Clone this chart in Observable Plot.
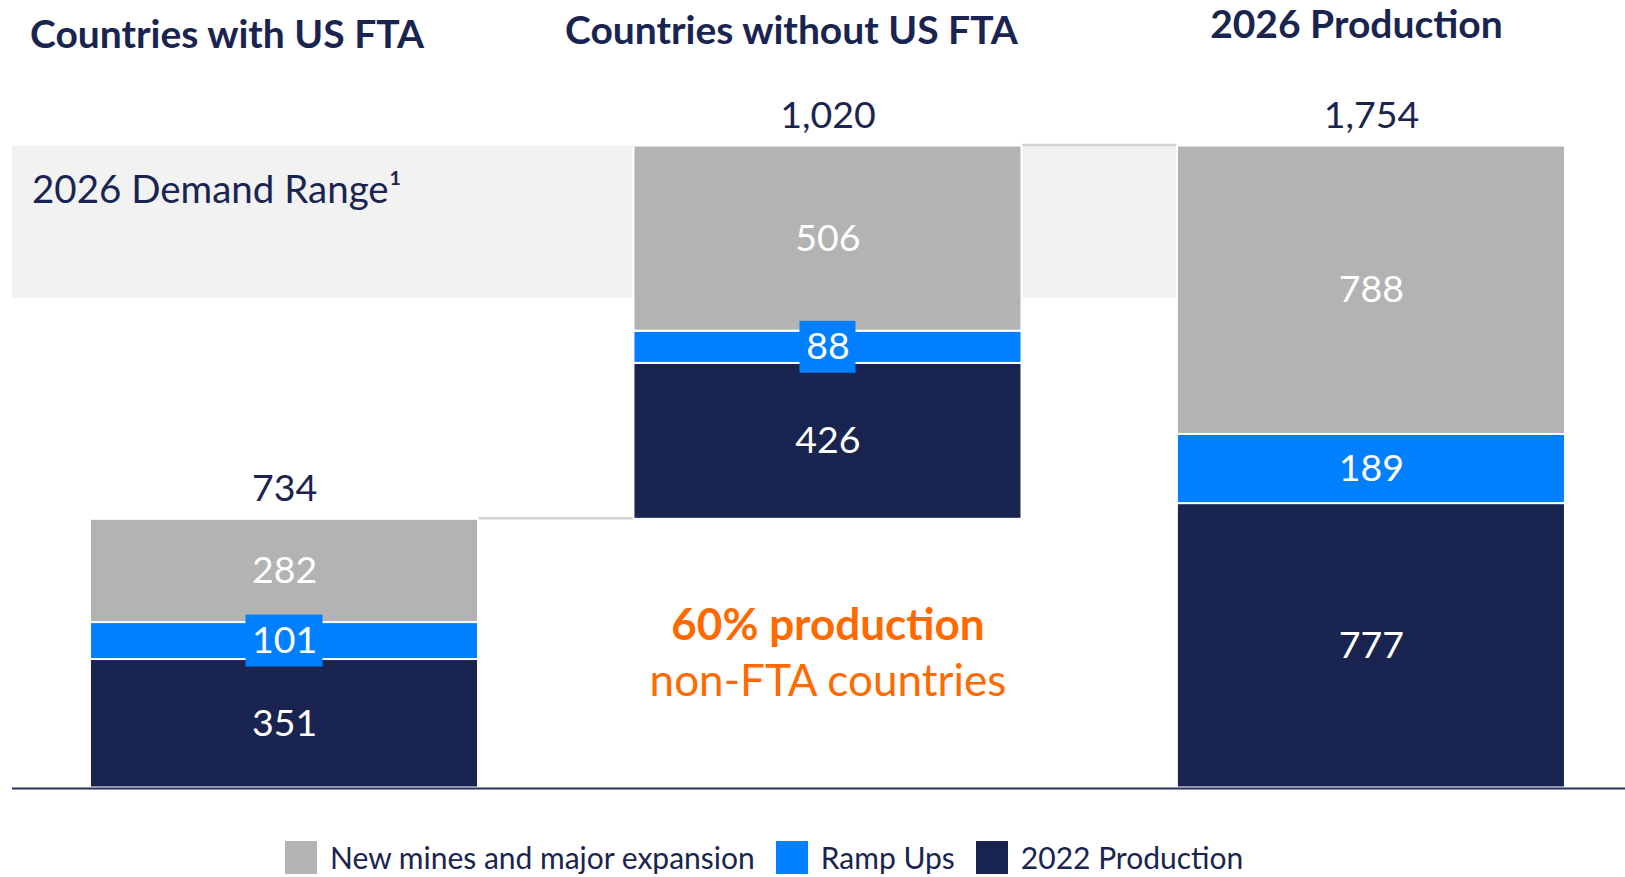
<!DOCTYPE html>
<html>
<head>
<meta charset="utf-8">
<script src="https://cdn.jsdelivr.net/npm/d3@7"></script>
<script src="https://cdn.jsdelivr.net/npm/@observablehq/plot@0.6"></script>
<style>
  html, body { margin: 0; padding: 0; background: #fff; overflow: hidden; }
  body { width: 1625px; height: 877px; font-family: Lato, "Open Sans", sans-serif; }
  #legend { position: relative; height: 47px; }
  #legend .row { position: absolute; left: 285px; top: 11px; display: flex; align-items: center; }
  #legend .sw { width: 32px; height: 33px; margin-right: 13px; }
  #legend .lb { font-size: 30px; color: #1A2450; margin-right: 21px; line-height: 33px; white-space: nowrap; }
</style>
</head>
<body>
<div id="chart"></div>
<div id="legend"></div>
<script>
// ---- data ----
const columns = ["Countries with US FTA", "Countries without US FTA", "2026 Production"];
const series = ["New mines and major expansion", "Ramp Ups", "2022 Production"];
const production2022 = [351, 426, 777];
const rampUps = [101, 88, 189];
const newMines = [282, 506, 788];
const floatBase = [0, 734, 0];          // waterfall: 2nd column starts on top of the 1st
const demandRange = [1338, 1754];       // 2026 demand range band
const demandLabel = "2026 Demand Range\u00B9";
const calloutLines = ["60% production", "non-FTA countries"];

// ---- styles ----
const navy = "#1A2450", blue = "#0080FF", gray = "#B3B3B3", orange = "#FF6A00", bandFill = "#F2F2F2", connector = "#D2D2D2";
const colors = [gray, blue, navy];
const H = 0.357;                 // half bar width, in column units
const xDomain = [-0.5005, 2.4675];
const fmt = d3.format(",");

// ---- derived tables ----
const rows = [];
const tops = [];
columns.forEach((c, i) => {
  let y = floatBase[i];
  [[series[2], production2022[i]], [series[1], rampUps[i]], [series[0], newMines[i]]].forEach(([s, v]) => {
    rows.push({i, column: c, series: s, value: v, y1: y, y2: y + v});
    y += v;
  });
  tops.push({i, top: y, total: y - floatBase[i]});
});
const rampRows = rows.filter(d => d.series === "Ramp Ups");
const connectors = [
  {from: 0, level: tops[0].top},
  {from: 1, level: tops[1].top}
];

const boxMark = d => {
  const boxPx = String(d.value).length * 21 + 14;
  const inset = (388 - boxPx) / 2;
  return Plot.rect([d], {
    x1: r => r.i - H, x2: r => r.i + H,
    y1: r => (r.y1 + r.y2) / 2, y2: r => (r.y1 + r.y2) / 2,
    insetLeft: inset, insetRight: inset, insetTop: -26, insetBottom: -26,
    fill: blue
  });
};

const chart = Plot.plot({
  width: 1625,
  height: 830,
  marginTop: 145.5,
  marginBottom: 42.5,
  marginLeft: 12,
  marginRight: 0,
  style: {fontFamily: "Lato, 'Open Sans', sans-serif", background: "#fff", overflow: "visible"},
  x: {domain: xDomain, axis: null},
  y: {domain: [0, 1754], axis: null},
  color: {domain: series, range: colors},
  marks: [
    // demand band
    Plot.rect([demandRange], {x1: xDomain[0], x2: columns.length - 1 + H, y1: d => d[0], y2: d => d[1], fill: bandFill}),
    Plot.text([demandLabel], {x: xDomain[0], y: demandRange[1], text: d => d, textAnchor: "start", lineAnchor: "top",
      dx: 19.5, dy: 30, fontSize: 38.5, fill: navy}),
    // connectors
    Plot.ruleY(connectors, {x1: d => d.from + H, x2: d => d.from + 1 - H, y: "level", stroke: connector, strokeWidth: 2.5, dy: -1}),
    // stacked bars
    Plot.rect(rows, {x1: d => d.i - H, x2: d => d.i + H, y1: "y1", y2: "y2", fill: "series", stroke: "white", strokeWidth: 2}),
    // label boxes for ramp ups
    ...rampRows.map(boxMark),
    // segment labels
    Plot.text(rows, {x: "i", y: d => (d.y1 + d.y2) / 2, text: d => fmt(d.value), fill: "white", fontSize: 37.5}),
    // totals
    Plot.text(tops, {x: "i", y: "top", text: d => fmt(d.total), lineAnchor: "bottom", dy: -18, fill: navy, fontSize: 37.5}),
    // baseline
    Plot.ruleY([0], {stroke: "#26325E", strokeWidth: 2, dy: 0.5}),
    // callout
    Plot.text([calloutLines[0]], {x: 1, frameAnchor: "bottom", text: d => d, lineAnchor: "bottom", dy: -148.5,
      fill: orange, fontSize: 44, fontWeight: "bold"}),
    Plot.text([calloutLines[1]], {x: 1, frameAnchor: "bottom", text: d => d, lineAnchor: "bottom", dy: -92.5,
      fill: orange, fontSize: 44}),
    // column titles
    Plot.text([columns[0]], {x: 0, frameAnchor: "top", text: d => d, lineAnchor: "bottom", dx: -57.5, dy: -97.8,
      fill: navy, fontSize: 39, fontWeight: "bold"}),
    Plot.text([columns[1]], {x: 1, frameAnchor: "top", text: d => d, lineAnchor: "bottom", dx: -36.5, dy: -102.2,
      fill: navy, fontSize: 39, fontWeight: "bold"}),
    Plot.text([columns[2]], {x: 2, frameAnchor: "top", text: d => d, lineAnchor: "bottom", dx: -15, dy: -108.2,
      fill: navy, fontSize: 39, fontWeight: "bold"})
  ]
});
document.getElementById("chart").appendChild(chart);

// ---- legend (HTML, below the SVG) ----
const row = document.createElement("div");
row.className = "row";
series.forEach((s, k) => {
  const sw = document.createElement("span");
  sw.className = "sw";
  sw.style.background = colors[k];
  const lb = document.createElement("span");
  lb.className = "lb";
  lb.textContent = s;
  row.appendChild(sw);
  row.appendChild(lb);
});
document.getElementById("legend").appendChild(row);
</script>
</body>
</html>
